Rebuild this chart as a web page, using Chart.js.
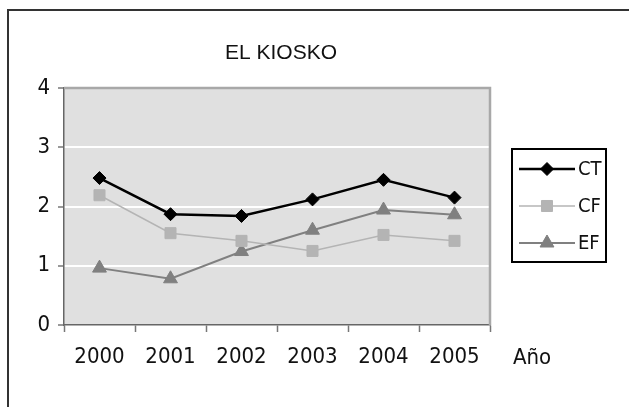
<!DOCTYPE html>
<html>
<head>
<meta charset="utf-8">
<script src="https://cdn.jsdelivr.net/npm/chart.js@4/dist/chart.umd.min.js"></script>
<style>
html, body { margin: 0; padding: 0; background: #fff; }
#wrap { width: 629px; height: 407px; }
</style>
</head>
<body>
<div id="wrap"><canvas id="kioskoChart" width="629" height="407"></canvas></div>
<script>
// Data
const years = ['2000', '2001', '2002', '2003', '2004', '2005'];
const ctValues = [2.48, 1.87, 1.84, 2.12, 2.45, 2.15];
const cfValues = [2.19, 1.55, 1.42, 1.25, 1.52, 1.42];
const efValues = [0.96, 0.78, 1.24, 1.60, 1.94, 1.86];
const yTicks = [0, 1, 2, 3, 4];
const chartTitle = 'EL KIOSKO';
const xAxisLabel = 'Año';

const numFont = '"DejaVu Sans Condensed", "Liberation Sans", sans-serif';

// Background, outer frame and grey plot area
const backdrop = {
    id: 'backdrop',
    beforeDraw(chart) {
        const { ctx, chartArea: a } = chart;
        ctx.save();
        ctx.fillStyle = '#fff';
        ctx.fillRect(0, 0, chart.width, chart.height);
        ctx.strokeStyle = '#333';
        ctx.lineWidth = 2;
        ctx.beginPath();
        ctx.moveTo(8, chart.height + 2);
        ctx.lineTo(8, 10);
        ctx.lineTo(chart.width + 2, 10);
        ctx.stroke();
        ctx.fillStyle = '#e0e0e0';
        ctx.fillRect(a.left, a.top, a.right - a.left, a.bottom - a.top);
        ctx.restore();
    }
};

// Plot border, title, axis caption and boxed legend
const extras = {
    id: 'extras',
    afterDraw(chart) {
        const { ctx, chartArea: a } = chart;
        ctx.save();
        ctx.strokeStyle = '#a8a8a8';
        ctx.lineWidth = 2.5;
        ctx.beginPath();
        ctx.moveTo(a.left, a.top);
        ctx.lineTo(a.right, a.top);
        ctx.lineTo(a.right, a.bottom);
        ctx.stroke();

        ctx.fillStyle = '#111';
        ctx.textBaseline = 'middle';
        ctx.textAlign = 'center';
        ctx.font = '21px "Liberation Sans", Arial, sans-serif';
        ctx.fillText(chartTitle, 281, 53);

        ctx.textAlign = 'left';
        ctx.font = '22px ' + numFont;
        ctx.fillText(xAxisLabel, 513, 358);

        // legend
        ctx.strokeStyle = '#000';
        ctx.lineWidth = 2;
        ctx.strokeRect(512, 149, 94, 113);
        ctx.font = '20px ' + numFont;
        const rowsY = [169, 206, 243];
        chart.data.datasets.forEach((ds, i) => {
            const y = rowsY[i];
            ctx.strokeStyle = ds.borderColor;
            ctx.lineWidth = ds.borderWidth;
            ctx.beginPath();
            ctx.moveTo(519, y);
            ctx.lineTo(575, y);
            ctx.stroke();
            ctx.fillStyle = ds.pointBackgroundColor;
            ctx.strokeStyle = ds.pointBorderColor;
            ctx.lineWidth = 1;
            Chart.helpers.drawPoint(ctx, { pointStyle: ds.pointStyle, radius: ds.pointRadius, rotation: 0, borderWidth: 1 }, 547, y);
            ctx.fillStyle = '#111';
            ctx.fillText(ds.label, 578, y + 1);
        });
        ctx.restore();
    }
};

const kioskoChart = new Chart(document.getElementById('kioskoChart'), {
    type: 'line',
    data: {
        labels: years,
        datasets: [
            { label: 'CT', data: ctValues, borderColor: '#000', borderWidth: 2.5,
              pointStyle: 'rectRot', pointRadius: 6.5, pointBackgroundColor: '#000', pointBorderColor: '#000', pointBorderWidth: 1 },
            { label: 'CF', data: cfValues, borderColor: '#b4b4b4', borderWidth: 1.5,
              pointStyle: 'rect', pointRadius: 7.8, pointBackgroundColor: '#b4b4b4', pointBorderColor: '#b4b4b4', pointBorderWidth: 1 },
            { label: 'EF', data: efValues, borderColor: '#808080', borderWidth: 2,
              pointStyle: 'triangle', pointRadius: 8, pointBackgroundColor: '#808080', pointBorderColor: '#808080', pointBorderWidth: 1 }
        ]
    },
    options: {
        responsive: false,
        animation: false,
        layout: { padding: { left: 0, top: 88, right: 139, bottom: 32 } },
        elements: { line: { tension: 0 } },
        plugins: {
            legend: { display: false },
            title: { display: false },
            tooltip: { enabled: false }
        },
        scales: {
            x: {
                offset: true,
                grid: { offset: true, drawOnChartArea: false, tickLength: 7, tickColor: '#777', tickWidth: 1.5 },
                border: { color: '#666', width: 1.5 },
                ticks: { color: '#111', font: { family: numFont, size: 22 }, padding: 12, maxRotation: 0, autoSkip: false },
                afterFit: s => { s.height = 50; }
            },
            y: {
                min: 0,
                max: 4,
                afterBuildTicks: s => { s.ticks = yTicks.map(v => ({ value: v })); },
                grid: {
                    color: c => (c.tick && (c.tick.value === 0 || c.tick.value === 4)) ? 'rgba(0,0,0,0)' : '#fff',
                    lineWidth: 2, tickLength: 6, tickColor: '#777', tickWidth: 1.5
                },
                border: { color: '#666', width: 1.5 },
                ticks: { color: '#111', font: { family: numFont, size: 22 }, padding: 8 },
                afterFit: s => { s.width = 64; }
            }
        }
    },
    plugins: [backdrop, extras]
});
</script>
</body>
</html>
